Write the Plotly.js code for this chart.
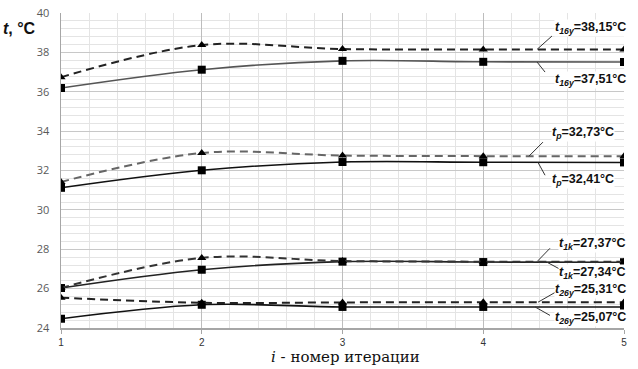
<!DOCTYPE html>
<html><head><meta charset="utf-8">
<script src="https://cdn.plot.ly/plotly-3.0.1.min.js"></script>
<style>html,body{margin:0;padding:0;background:#fff}#chart{width:638px;height:369px}</style>
</head><body><div id="chart"></div>
<script>
// Iteration numbers
const iterations = [1, 2, 3, 4, 5];
// Temperatures, °C
const t16y_dashed = [36.74, 38.37, 38.17, 38.15, 38.15];
const t16y_solid  = [36.19, 37.12, 37.57, 37.52, 37.51];
const tp_dashed   = [31.42, 32.89, 32.76, 32.73, 32.73];
const tp_solid    = [31.12, 32.01, 32.43, 32.42, 32.41];
const t1k_dashed  = [26.03, 27.56, 27.40, 27.37, 27.37];
const t1k_solid   = [26.03, 26.96, 27.37, 27.35, 27.34];
const t26y_dashed = [25.54, 25.28, 25.30, 25.31, 25.31];
const t26y_solid  = [24.47, 25.18, 25.07, 25.07, 25.07];
const xTickLabels = ['1', '2', '3', '4', '5'];

function dashed(y, color) {
  return {x: iterations, y: y, type: 'scatter', mode: 'lines+markers',
    line: {color: color, width: 2, dash: '8px,5px', shape: 'spline', smoothing: 1},
    marker: {symbol: 'triangle-up', size: 8, color: '#000'}, showlegend: false, hoverinfo: 'none'};
}
function solid(y, color) {
  return {x: iterations, y: y, type: 'scatter', mode: 'lines+markers',
    line: {color: color, width: 1.6, shape: 'spline', smoothing: 1},
    marker: {symbol: 'square', size: 8, color: '#000'}, showlegend: false, hoverinfo: 'none'};
}
const data = [
  solid(t16y_solid, '#555'), dashed(t16y_dashed, '#222'),
  solid(tp_solid, '#111'), dashed(tp_dashed, '#666'),
  solid(t1k_solid, '#222'), dashed(t1k_dashed, '#333'),
  solid(t26y_solid, '#111'), dashed(t26y_dashed, '#222')
];

const labFont = {family: 'Liberation Sans, Arial, sans-serif', size: 12.5, color: '#111'};
function lab(y, shift, txt) {
  return {x: 5, y: y, xref: 'x', yref: 'y', text: '<b>' + txt + '</b>', showarrow: false,
    xanchor: 'right', yanchor: 'middle', xshift: shift, font: labFont, bgcolor: '#fff', borderpad: 0};
}
const labels = [
  lab(39.24, 3, '<i>t</i><sub><i>16y</i></sub>=38,15°C'),
  lab(36.59, 3, '<i>t</i><sub><i>16y</i></sub>=37,51°C'),
  lab(33.9, -9, '<i>t</i><sub><i>p</i></sub>=32,73°C'),
  lab(31.5, -9, '<i>t</i><sub><i>p</i></sub>=32,41°C'),
  lab(28.25, 3, '<i>t</i><sub><i>1k</i></sub>=27,37°C'),
  lab(26.78, 3, '<i>t</i><sub><i>1k</i></sub>=27,34°C'),
  lab(25.91, 3, '<i>t</i><sub><i>26y</i></sub>=25,31°C'),
  lab(24.49, 3, '<i>t</i><sub><i>26y</i></sub>=25,07°C')
];
function leader(x0, y0, x1, y1) {
  return {type: 'line', xref: 'x', yref: 'y', x0: x0, y0: y0, x1: x1, y1: y1,
    line: {color: '#333', width: 1}};
}
const shapes = [
  leader(4.488, 38.83, 4.382, 38.15),
  leader(4.382, 37.51, 4.439, 37.0),
  leader(4.424, 33.44, 4.325, 32.73),
  leader(4.389, 32.41, 4.439, 31.76),
  leader(4.474, 28.05, 4.382, 27.37),
  leader(4.453, 27.34, 4.56, 26.93),
  leader(4.56, 26.01, 4.389, 25.31),
  leader(4.368, 25.07, 4.474, 24.64)
];

const layout = {
  width: 638, height: 369,
  margin: {l: 61, r: 14, t: 13, b: 41},
  paper_bgcolor: '#fff', plot_bgcolor: '#fff',
  xaxis: {range: [1, 5], tickvals: iterations, ticktext: xTickLabels,
    showgrid: true, gridcolor: '#bdbdbd', gridwidth: 1,
    minor: {dtick: 0.2, showgrid: true, gridcolor: '#e4e4e4', gridwidth: 1},
    showline: true, linecolor: '#a6a6a6', linewidth: 1.5,
    ticks: 'outside', ticklen: 4, tickcolor: '#a6a6a6',
    tickfont: {family: 'Liberation Sans, Arial, sans-serif', size: 10, color: '#333'},
    zeroline: false, fixedrange: true},
  yaxis: {range: [24, 40], dtick: 2, tick0: 24,
    showgrid: true, gridcolor: '#c8c8c8', gridwidth: 1,
    minor: {dtick: 0.4, showgrid: true, gridcolor: '#e4e4e4', gridwidth: 1},
    showline: true, linecolor: '#a6a6a6', linewidth: 1.5,
    ticks: '', ticklabelstandoff: 8,
    tickfont: {family: 'Open Sans, Liberation Sans, sans-serif', size: 11, color: '#595959'},
    zeroline: false, fixedrange: true},
  shapes: shapes,
  annotations: labels.concat([
    {xref: 'paper', yref: 'paper', x: -0.073, y: 0.952, text: '<b><i>t</i>, °C</b>', showarrow: false,
      xanchor: 'center', yanchor: 'middle', font: {family: 'Liberation Sans, Arial, sans-serif', size: 16, color: '#111'}},
    {xref: 'paper', yref: 'paper', x: 0.505, y: -0.092, text: '<i>i</i> - номер итерации', showarrow: false,
      xanchor: 'center', yanchor: 'middle', font: {family: 'DejaVu Serif, Liberation Serif, serif', size: 15, color: '#111'}}
  ])
};
Plotly.newPlot('chart', data, layout, {staticPlot: true, displayModeBar: false});
</script></body></html>
